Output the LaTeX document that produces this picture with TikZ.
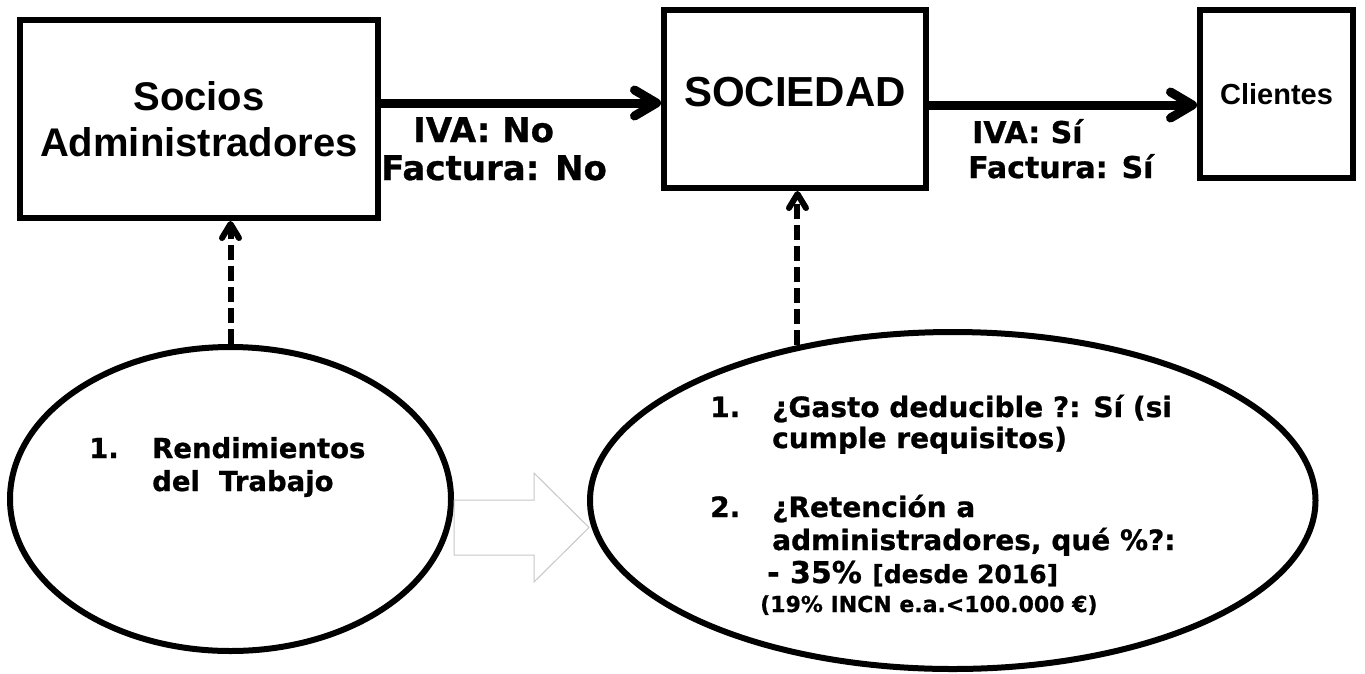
\documentclass[tikz,border=0pt]{standalone}
\usepackage{fontspec}
\usetikzlibrary{shapes.geometric,arrows.meta}
\newfontfamily\arialf{Liberation Sans}
\newfontfamily\verdf{DejaVu Sans}[BoldFeatures={FakeBold=0.8}]
\begin{document}
\begin{tikzpicture}[x=1pt,y=-1pt,
  box/.style={draw, line width=6pt, inner sep=0pt, align=center},
  oval/.style={draw, ellipse, line width=6pt, inner sep=0pt},
  txt/.style={anchor=base west, inner sep=0pt},
  flow/.style={line width=9pt, -{Straight Barb[length=22pt,width=26pt,round]}},
  dep/.style={line width=6pt, dash pattern=on 15pt off 6pt, -{Straight Barb[length=14pt,width=17pt,round]}},
  blockarrow/.style={draw=black!22, line width=1pt}
]
\fill[white] (0,0) rectangle (1365,673);
\useasboundingbox (0,0) rectangle (1365,673);

% boxes
\node[box, minimum width=358pt, minimum height=198pt,
      font=\arialf\bfseries\fontsize{40}{46}\selectfont] (b1) at (199,119) {Socios\\Administradores};
\node[box, minimum width=262pt, minimum height=178pt,
      font=\arialf\bfseries\fontsize{42}{46}\selectfont] (soc) at (795,99) {\raisebox{14pt}{SOCIEDAD}};
\node[box, minimum width=153pt, minimum height=167.5pt,
      font=\arialf\bfseries\fontsize{29}{34}\selectfont] (cl) at (1276.5,93.75) {\raisebox{-3pt}{Clientes}};

% ellipses
\node[oval, minimum width=441pt, minimum height=304pt] (e1) at (230.5,499) {};
\node[oval, minimum width=725.5pt, minimum height=337pt] (e2) at (952.75,500.5) {};

% main arrows
\draw[flow] ([yshift=-4pt]b1.east |- soc.west) -- ([yshift=-4pt]soc.west);
\draw[flow] ([yshift=-6pt]soc.east) -- ([yshift=-6pt]cl.west |- soc.east);

% dashed arrows
\draw[dep] (e1.north) -- (e1.north |- b1.south);
\draw[dep] (e2.135) -- (e2.135 |- soc.south);

% block arrow between ellipses
\draw[blockarrow] (e1.east |- 0,500) -- (534,500) -- (534,473) -- (589,527.5)
   -- (534,582) -- (534,555) -- (e1.east |- 0,555) -- cycle;

% labels on arrows
\node[txt, font=\verdf\bfseries\fontsize{34}{38}\selectfont] (l1a) at (413,142) {IVA: No};
\node[txt, font=\verdf\bfseries\fontsize{34}{38}\selectfont] (l1b) at (381,180) {Factura: No};
\node[txt, font=\verdf\bfseries\fontsize{30}{34}\selectfont] (l2a) at (972,143) {IVA: Sí};
\node[txt, font=\verdf\bfseries\fontsize{30}{34}\selectfont] (l2b) at (968,178) {Factura: Sí};

% ellipse 1 text
\node[txt, font=\verdf\bfseries\fontsize{27.5}{33}\selectfont] (r1n) at (89,458) {1.};
\node[txt, font=\verdf\bfseries\fontsize{27.5}{33}\selectfont] (r1a) at (152,458) {Rendimientos};
\node[txt, font=\verdf\bfseries\fontsize{27.5}{33}\selectfont] (r1b) at (152,491) {del\ \ Trabajo};

% ellipse 2 text
\node[txt, font=\verdf\bfseries\fontsize{28}{31}\selectfont] (q1n) at (710,417) {1.};
\node[txt, font=\verdf\bfseries\fontsize{28}{31}\selectfont] (q1a) at (772,417) {¿Gasto deducible ?: Sí (si};
\node[txt, font=\verdf\bfseries\fontsize{28}{31}\selectfont] (q1b) at (772,448) {cumple requisitos)};
\node[txt, font=\verdf\bfseries\fontsize{28}{31}\selectfont] (q2n) at (710,517) {2.};
\node[txt, font=\verdf\bfseries\fontsize{28}{31}\selectfont] (q2a) at (772,517) {¿Retención a};
\node[txt, font=\verdf\bfseries\fontsize{28}{31}\selectfont] (q2b) at (772,550) {administradores, qué \%?:};
\node[txt, font=\verdf\bfseries] (q2c) at (767,583) {{\fontsize{30}{30}\selectfont - 35\% }{\fontsize{25}{25}\selectfont[desde 2016]}};
\node[txt, font=\verdf\bfseries\fontsize{22}{24}\selectfont] (q2d) at (760,612) {(19\% INCN e.a.<100.000 €)};
\end{tikzpicture}
\end{document}
